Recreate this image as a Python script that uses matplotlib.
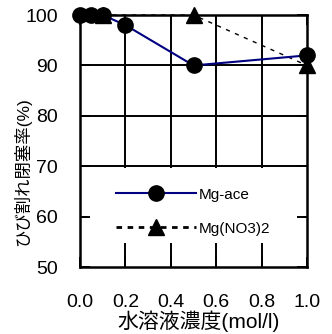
import matplotlib
matplotlib.use("Agg")
import matplotlib.pyplot as plt
from matplotlib.patches import Rectangle

# 水溶液濃度 (mol/l) とひび割れ閉塞率 (%)
ace_conc = [0.0, 0.05, 0.1, 0.2, 0.5, 1.0]
ace_rate = [100, 100, 100, 98, 90, 92]
no3_conc = [0.1, 0.5, 1.0]
no3_rate = [100, 100, 90]

xticks = [0.0, 0.2, 0.4, 0.6, 0.8, 1.0]
yticks = [50, 60, 70, 80, 90, 100]

plt.rcParams['font.family'] = ['Liberation Sans', 'Noto Sans CJK JP', 'DejaVu Sans']

fig = plt.figure(figsize=(3.32, 3.34), dpi=100)
ax = fig.add_axes([0.241, 0.2, 0.684, 0.755])

# grid lines drawn by hand so the legend box can hide them
for y in yticks[1:-1]:
    ax.axhline(y, color='black', lw=1.4, zorder=1)
for x in xticks[1:-1]:
    ax.axvline(x, color='black', lw=1.4, zorder=1)

# white legend area
ax.add_patch(Rectangle((0.03, 0.095), 0.95, 0.298, transform=ax.transAxes,
                       facecolor='white', edgecolor='none', zorder=1.5))

ax.plot(ace_conc, ace_rate, color='#000080', lw=1.5, marker='o', ms=11,
        mfc='black', mec='black', label='Mg-ace', zorder=4, clip_on=False)
ax.plot(no3_conc, no3_rate, color='black', lw=1.0, ls=(0, (3, 4)), marker='^',
        ms=11, mfc='black', mec='black', label='Mg(NO3)2', zorder=3, clip_on=False)

ax.set_xlim(0, 1.0)
ax.set_ylim(50, 100)
ax.set_xticks(xticks)
ax.set_xticklabels([f'{v:.1f}' for v in xticks])
ax.set_yticks(yticks)
ax.tick_params(direction='in', length=7, width=1.4, labelsize=14,
               top=True, right=True)
ax.tick_params(axis='x', pad=19)
ax.tick_params(axis='y', pad=16)
for s in ax.spines.values():
    s.set_linewidth(1.8)

ax.set_xlabel('水溶液濃度(mol/l)', fontsize=15)
ax.xaxis.set_label_coords(0.52, -0.17)
ax.set_ylabel('ひび割れ閉塞率(%)', fontsize=12.5)
ax.yaxis.set_label_coords(-0.215, 0.38)

leg = ax.legend(loc='upper left', bbox_to_anchor=(0.16, 0.315), frameon=False,
                fontsize=11, handlelength=5.2, handletextpad=0.2,
                labelspacing=1.3, borderpad=0, borderaxespad=0)
for h in leg.legend_handles:
    h.set_markersize(11)
leg.legend_handles[1].set_linewidth(2)
leg.legend_handles[1].set_linestyle((0, (2, 2)))

fig.savefig('out.png', dpi=100)
